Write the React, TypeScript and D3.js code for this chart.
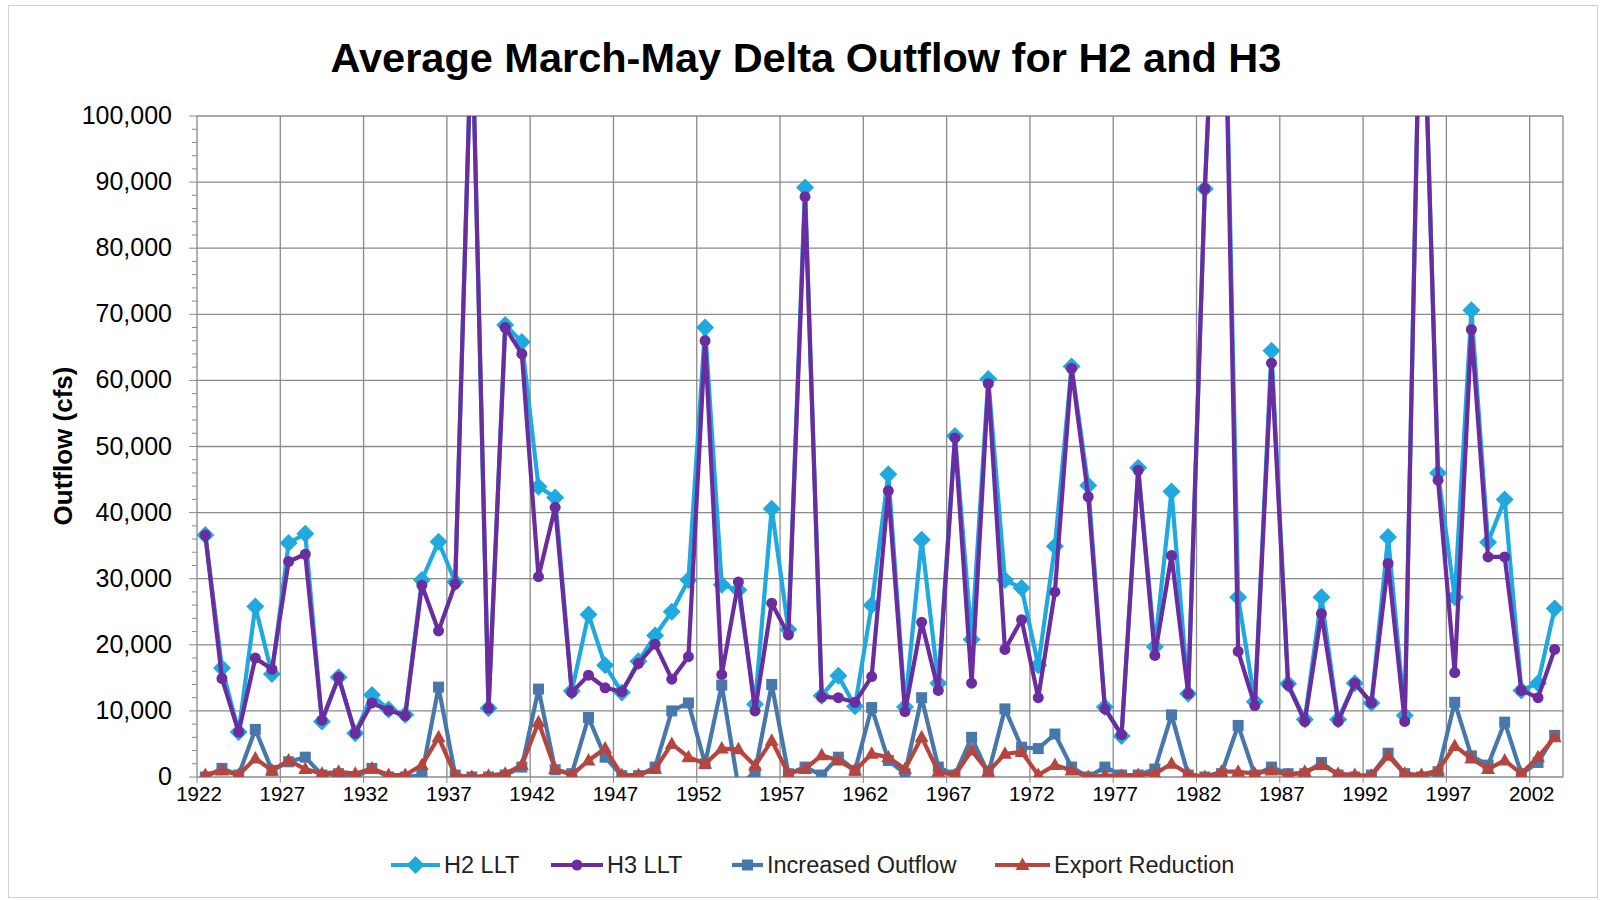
import React from 'react';
import * as d3 from 'd3';

const years: number[] = [
  1922, 1923, 1924, 1925, 1926, 1927, 1928, 1929, 1930, 1931, 1932, 1933, 1934, 1935, 1936, 1937, 1938, 1939, 1940, 1941,
  1942, 1943, 1944, 1945, 1946, 1947, 1948, 1949, 1950, 1951, 1952, 1953, 1954, 1955, 1956, 1957, 1958, 1959, 1960, 1961,
  1962, 1963, 1964, 1965, 1966, 1967, 1968, 1969, 1970, 1971, 1972, 1973, 1974, 1975, 1976, 1977, 1978, 1979, 1980, 1981,
  1982, 1983, 1984, 1985, 1986, 1987, 1988, 1989, 1990, 1991, 1992, 1993, 1994, 1995, 1996, 1997, 1998, 1999, 2000, 2001,
  2002, 2003,
];

const h2LLT: number[] = [
  36600, 16500, 6800, 25800, 15600, 35400, 36800, 8400, 15100, 6600, 12400, 10200, 9400, 29800, 35600, 29500, 115000, 10400, 68400, 65800,
  43900, 42300, 13000, 24600, 16900, 12800, 17500, 21400, 25000, 29800, 68000, 29100, 28300, 11000, 40600, 22300, 89200, 12300, 15300, 10700,
  26000, 45800, 10600, 35900, 14200, 51600, 20800, 60200, 29800, 28600, 16900, 34900, 62100, 44100, 10600, 6200, 46800, 19700, 43200, 12600,
  89000, 145000, 27200, 11400, 64500, 14100, 8700, 27200, 8700, 14200, 11200, 36300, 9300, 130000, 46000, 27200, 70600, 35500, 42000, 13100,
  14200, 25500,
];

const h3LLT: number[] = [
  36600, 14900, 6800, 18000, 16300, 32600, 33700, 8600, 15100, 6600, 11200, 10100, 9300, 29000, 22100, 29200, 115000, 10400, 68000, 64000,
  30300, 40800, 12800, 15400, 13500, 12900, 17200, 20100, 14800, 18200, 66000, 15500, 29500, 10000, 26300, 21500, 87800, 12100, 12000, 11300,
  15200, 43300, 9900, 23400, 13100, 51300, 14200, 59500, 19300, 23800, 12000, 28000, 61800, 42400, 10300, 6400, 46400, 18400, 33500, 12600,
  89000, 145000, 19000, 10800, 62600, 13900, 8400, 24700, 8400, 14200, 11200, 32300, 8400, 130000, 44900, 15800, 67700, 33300, 33300, 13100,
  12000, 19300,
];

const increasedOutflow: number[] = [
  0, 1300, 300, 7200, 1000, 2300, 3000, 300, 500, 0, 1300, 0, 0, 300, 13600, 300, 0, 0, 300, 1500,
  13300, 1100, 500, 9000, 3000, 200, 200, 1500, 10000, 11200, 2000, 13900, -1500, 800, 14000, 500, 1500, 300, 3000, 1000,
  10500, 2500, 500, 12000, 1500, 300, 6000, 500, 10300, 4500, 4300, 6500, 1500, 0, 1500, 300, 300, 1200, 9400, 300,
  0, 500, 7800, 300, 1500, 500, 500, 2200, 300, 0, 300, 3600, 500, 0, 800, 11300, 3200, 1800, 8300, 500,
  2200, 6300,
];

const exportReduction: number[] = [
  300, 1000, 300, 2800, 1000, 2500, 1200, 500, 800, 500, 1300, 300, 300, 1800, 6000, 300, 0, 200, 500, 1800,
  8300, 1200, 300, 2500, 4300, 300, 300, 1200, 5000, 3000, 2000, 4300, 4200, 1700, 5500, 500, 1200, 3300, 2500, 1000,
  3500, 3000, 1200, 6000, 800, 300, 4000, 800, 3500, 3800, 300, 1800, 1000, 0, 200, 200, 300, 500, 2000, 500,
  0, 800, 800, 500, 1000, 300, 800, 1800, 500, 300, 200, 3200, 500, 300, 1000, 4700, 2800, 1200, 2500, 500,
  3000, 6000,
];

const yTicks: number[] = [0, 10000, 20000, 30000, 40000, 50000, 60000, 70000, 80000, 90000, 100000];

const seriesNames: string[] = ['H2 LLT', 'H3 LLT', 'Increased Outflow', 'Export Reduction'];
const seriesColors: string[] = ['#1fa9df', '#6a2c9e', '#4777ab', '#b6453d'];

const W = 1600;
const H = 900;
const L = 197;
const R = 1563;
const T = 116;
const B = 777;
const FONT = "'Liberation Sans', Arial, sans-serif";

function Marker({ kind, x, y, color }: { kind: number; x: number; y: number; color: string }) {
  if (kind === 0) {
    const s = 9;
    return <path d={`M${x},${y - s}L${x + s},${y}L${x},${y + s}L${x - s},${y}Z`} fill={color} />;
  }
  if (kind === 1) return <circle cx={x} cy={y} r={5.5} fill={color} />;
  if (kind === 2) return <rect x={x - 5.5} y={y - 5.5} width={11} height={11} fill={color} />;
  return <path d={`M${x},${y - 7.5}L${x + 7},${y + 5}L${x - 7},${y + 5}Z`} fill={color} />;
}

export default function App() {
  const x = d3.scaleBand<number>().domain(years).range([L, R]).paddingInner(0).paddingOuter(0);
  const bw = x.bandwidth();
  const cx = (yr: number) => (x(yr) as number) + bw / 2;
  const y = d3.scaleLinear().domain([0, 100000]).range([B, T]);

  const data = [h2LLT, h3LLT, increasedOutflow, exportReduction];
  const line = d3
    .line<number>()
    .x((_, i) => cx(years[i]))
    .y((d) => y(d));

  const minorTicks = d3.range(0, 100001, 2000);
  const fmt = d3.format(',');
  const xLabelYears = years.filter((_, i) => i % 5 === 0);

  const legendItems = [
    { lx: 391, tx: 444 },
    { lx: 551, tx: 607 },
    { lx: 732, tx: 767 },
    { lx: 995, tx: 1054 },
  ];
  const LY = 865;

  return (
    <svg
      width={W}
      height={H}
      viewBox={`0 0 ${W} ${H}`}
      style={{ position: 'absolute', left: 0, top: 0, background: '#fff' }}
      fontFamily={FONT}
    >
      <rect x={0} y={0} width={W} height={H} fill="#fff" />
      <rect x={8.5} y={5.5} width={1589} height={892} fill="none" stroke="#d0d0d0" strokeWidth={1} />
      <defs>
        <clipPath id="plotClip">
          <rect x={L} y={T} width={R - L} height={B - T} />
        </clipPath>
      </defs>

      <text x={806} y={72} textAnchor="middle" fontSize={41.5} fontWeight="bold" fill="#000">
        Average March-May Delta Outflow for H2 and H3
      </text>

      {yTicks.map((t) => (
        <line key={`hg${t}`} x1={L} x2={R} y1={y(t)} y2={y(t)} stroke="#8a8a8a" strokeWidth={1.3} />
      ))}
      {xLabelYears.map((yr) => (
        <line key={`vg${yr}`} x1={x(yr) as number} x2={x(yr) as number} y1={T} y2={B} stroke="#8a8a8a" strokeWidth={1.3} />
      ))}
      <line x1={R} x2={R} y1={T} y2={B} stroke="#8a8a8a" strokeWidth={1.3} />

      {minorTicks.map((t) => (
        <line key={`mt${t}`} x1={L - (t % 10000 === 0 ? 8 : 5)} x2={L} y1={y(t)} y2={y(t)} stroke="#8a8a8a" strokeWidth={1} />
      ))}
      {xLabelYears.map((yr) => (
        <line key={`xt${yr}`} x1={x(yr) as number} x2={x(yr) as number} y1={B} y2={B + 6} stroke="#8a8a8a" strokeWidth={1} />
      ))}

      {yTicks.map((t) => (
        <text key={`yl${t}`} x={172} y={y(t) + 8} textAnchor="end" fontSize={25} fill="#000">
          {fmt(t)}
        </text>
      ))}
      {xLabelYears.map((yr) => (
        <text key={`xl${yr}`} x={(x(yr) as number) + 2} y={801} textAnchor="middle" fontSize={20.5} fill="#000">
          {yr}
        </text>
      ))}

      <text
        transform={`translate(72,446) rotate(-90)`}
        textAnchor="middle"
        fontSize={26}
        fontWeight="bold"
        fill="#000"
      >
        Outflow (cfs)
      </text>

      <g clipPath="url(#plotClip)">
        {data.map((vals, si) => (
          <g key={`s${si}`}>
            <path d={line(vals) || ''} fill="none" stroke={seriesColors[si]} strokeWidth={4.2} strokeLinejoin="round" />
            {vals.map((v, i) => (
              <Marker key={i} kind={si} x={cx(years[i])} y={y(v)} color={seriesColors[si]} />
            ))}
          </g>
        ))}
      </g>

      {legendItems.map((it, si) => (
        <g key={`lg${si}`}>
          <line x1={it.lx} x2={it.tx - 4} y1={LY} y2={LY} stroke={seriesColors[si]} strokeWidth={4.2} />
          <Marker kind={si} x={(it.lx + it.tx - 4) / 2} y={LY} color={seriesColors[si]} />
          <text x={it.tx} y={LY + 8} fontSize={23.5} fill="#222">
            {seriesNames[si]}
          </text>
        </g>
      ))}
    </svg>
  );
}
